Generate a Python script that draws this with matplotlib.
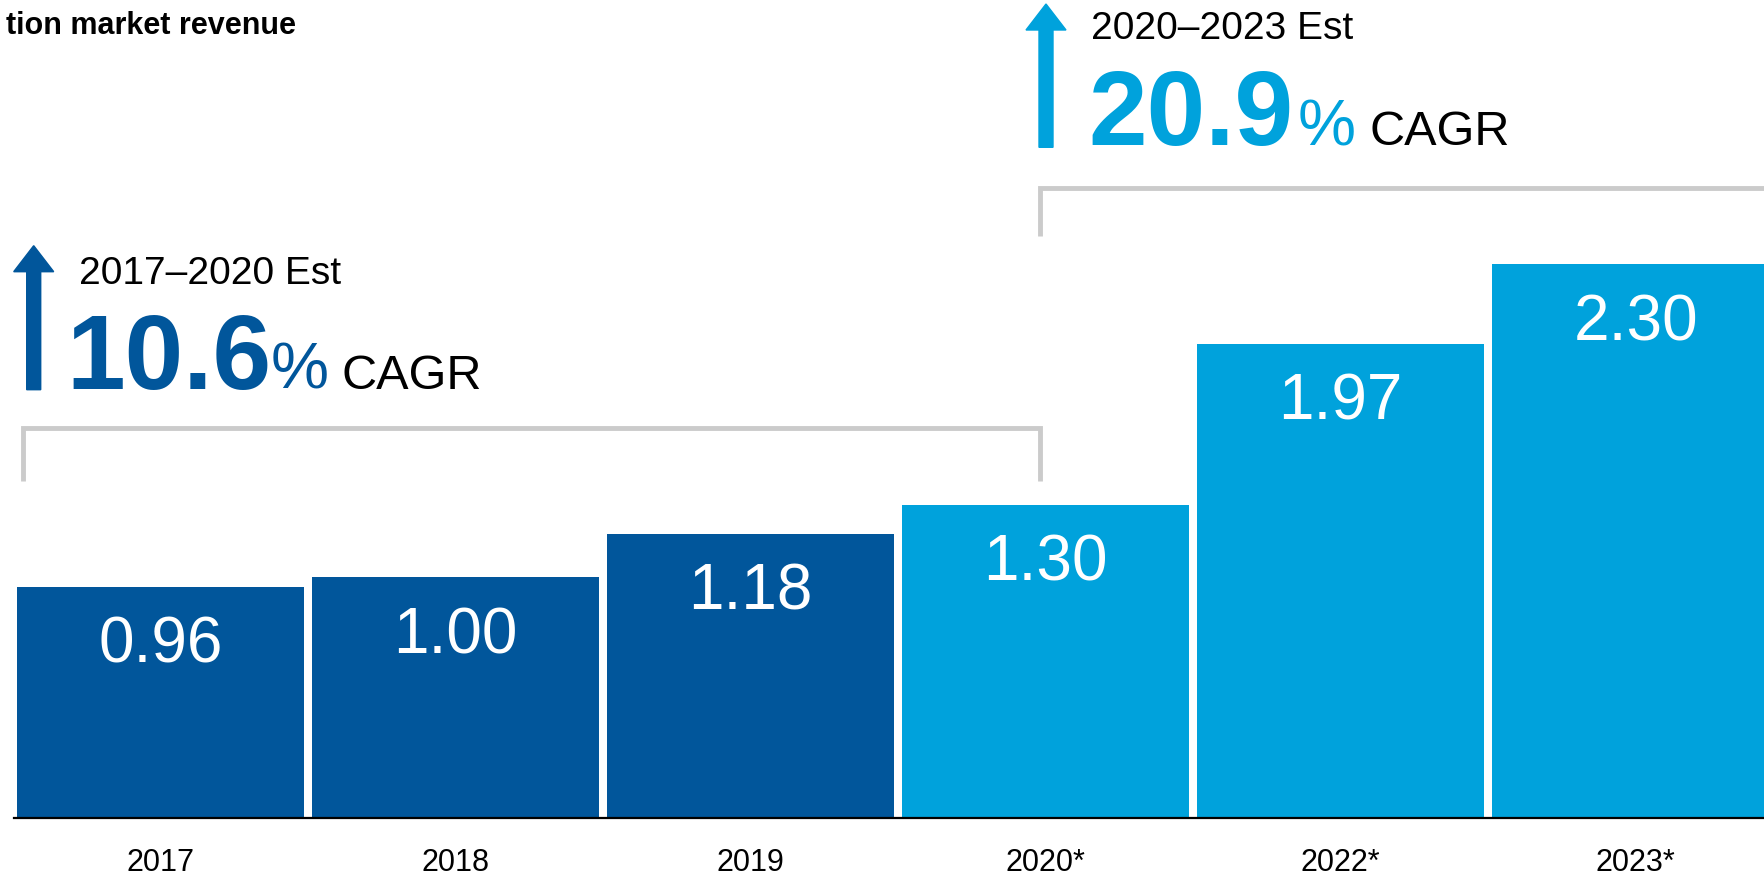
import numpy as np
import matplotlib
matplotlib.use('Agg')
import matplotlib.pyplot as plt
from matplotlib.patches import FancyArrow
from matplotlib.transforms import IdentityTransform

plt.rcParams['font.family'] = ['Liberation Sans', 'DejaVu Sans']

# Data
years = ['2017', '2018', '2019', '2020*', '2022*', '2023*']
revenue = [0.96, 1.00, 1.18, 1.30, 1.97, 2.30]
value_labels = ['0.96', '1.00', '1.18', '1.30', '1.97', '2.30']
period_labels = ['2017\u20132020 Est', '2020\u20132023 Est']
cagr_values = ['10.6', '20.9']

dark_blue = '#01569B'
light_blue = '#00A2DC'
bracket_grey = '#CBCBCB'
bar_colors = [dark_blue] * 3 + [light_blue] * 3

W, H = 1765, 878
fig = plt.figure(figsize=(W / 100, H / 100), dpi=100)
# axes bottom sits on the baseline (819 px from top)
ax = fig.add_axes([0, 59 / H, 1, 819 / H])

x = np.arange(len(years))
bars = ax.bar(x, revenue, width=0.973, color=bar_colors, zorder=2)

ax.set_xlim(-0.5444, 5.4386)
ax.set_ylim(0, 3.401)
for s in ax.spines.values():
    s.set_visible(False)
ax.set_yticks([])

# baseline
ax.plot([-0.4976, 5.5], [0, 0], color='black', lw=1.6, zorder=3, clip_on=False)

# category labels
ax.set_xticks(x)
ax.set_xticklabels(years, fontsize=22)
ax.tick_params(axis='x', length=0, pad=21)

# values inside bars
for xi, v, txt in zip(x, revenue, value_labels):
    ax.annotate(txt, xy=(xi, v), xytext=(0, -54), textcoords='offset points',
                ha='center', va='baseline', color='white', fontsize=46)

# brackets
def bracket(x0, x1, ytop, ybot):
    ax.plot([x0, x0, x1, x1], [ybot, ytop, ytop, ybot], color=bracket_grey,
            lw=3.5, solid_joinstyle='miter', solid_capstyle='butt', clip_on=False)

bracket(-0.465, 2.981, 1.618, 1.401)
bracket(2.981, 5.6, 2.616, 2.415)

# arrows (pixel positions measured from top)
def arrow(px, ytop, ybot, color):
    a = FancyArrow(px, H - ybot, 0, ybot - ytop, width=14, head_width=40,
                   head_length=26, length_includes_head=True, color=color,
                   transform=IdentityTransform())
    fig.add_artist(a)

arrow(33.7, 246.7, 390.7, dark_blue)
arrow(1046, 5, 148.3, light_blue)

def ftext(px, py, s, **kw):
    fig.text(px / W, 1 - py / H, s, va='baseline', ha='left', **kw)

# CAGR callouts
ftext(79, 284, period_labels[0], fontsize=28, color='black')
ftext(66, 389, cagr_values[0], fontsize=76, fontweight='bold', color=dark_blue)
ftext(271, 389, '%', fontsize=47, color=dark_blue)
ftext(342, 389, 'CAGR', fontsize=35, color='black')

ftext(1091, 39.3, period_labels[1], fontsize=28, color='black')
ftext(1088, 145, cagr_values[1], fontsize=76, fontweight='bold', color=light_blue)
ftext(1298, 145, '%', fontsize=47, color=light_blue)
ftext(1370, 145, 'CAGR', fontsize=35, color='black')

# title (cut off at the left edge)
fig.text(296 / W, 1 - 33.5 / H, 'tion market revenue', ha='right', va='baseline',
         fontsize=22, fontweight='bold', color='black')

plt.savefig('out.png', dpi=100)
